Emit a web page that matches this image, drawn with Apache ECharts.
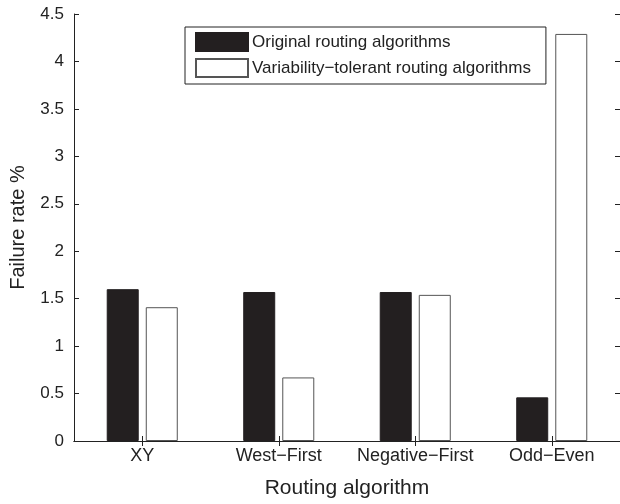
<!DOCTYPE html>
<html>
<head>
<meta charset="utf-8">
<script src="https://cdn.jsdelivr.net/npm/echarts@6/dist/echarts.min.js"></script>
<style>
  html, body { margin: 0; padding: 0; background: #fff; }
  #chart { width: 620px; height: 504px; }
</style>
</head>
<body>
<div id="chart"></div>
<script>
var categories = ["XY", "West\u2212First", "Negative\u2212First", "Odd\u2212Even"];
var originalRates = [1.6, 1.57, 1.57, 0.46];
var tolerantRates = [1.41, 0.67, 1.54, 4.29];
var seriesNames = ["Original routing algorithms", "Variability\u2212tolerant routing algorithms"];

var font = "Liberation Sans, Arial, Helvetica, sans-serif";
var axisColor = "#222";

var myChart = echarts.init(document.getElementById("chart"));

var yAxisBase = {
  type: "value",
  min: 0,
  max: 4.5,
  interval: 0.5,
  axisLine: { show: true, lineStyle: { color: axisColor, width: 1 } },
  axisTick: { show: true, inside: true, length: 5, lineStyle: { color: axisColor } },
  splitLine: { show: false }
};

var option = {
  animation: false,
  textStyle: { fontFamily: font },
  grid: { left: 73, right: 0, top: 14, bottom: 57, containLabel: false },
  legend: {
    orient: "vertical",
    left: 185,
    top: 27,
    padding: [5, 15, 6, 10],
    itemGap: 6,
    itemWidth: 52,
    itemHeight: 18,
    borderColor: "#222",
    borderWidth: 1,
    backgroundColor: "#fff",
    icon: "rect",
    textStyle: { fontFamily: font, fontSize: 17, color: "#222", padding: [0, 0, 0, -1] },
    data: seriesNames
  },
  xAxis: [
    {
      type: "category",
      data: categories,
      position: "bottom",
      name: "Routing algorithm",
      nameLocation: "middle",
      nameGap: 37,
      nameTextStyle: { fontFamily: font, fontSize: 21, color: "#222" },
      axisLine: { show: true, lineStyle: { color: axisColor, width: 1 } },
      axisTick: { show: true, inside: true, length: 5, alignWithLabel: true, lineStyle: { color: axisColor } },
      axisLabel: { interval: 0, fontFamily: font, fontSize: 18, color: "#222", margin: 6 },
      splitLine: { show: false }
    },
    {
      type: "category",
      data: categories,
      position: "top",
      axisLine: { show: true, lineStyle: { color: axisColor, width: 1 } },
      axisTick: { show: true, inside: true, length: 5, alignWithLabel: true, lineStyle: { color: axisColor } },
      axisLabel: { show: false },
      splitLine: { show: false }
    }
  ],
  yAxis: [
    Object.assign({}, yAxisBase, {
      position: "left",
      name: "Failure rate %",
      nameLocation: "middle",
      nameGap: 46,
      nameTextStyle: { fontFamily: font, fontSize: 20, color: "#222" },
      axisLabel: { fontFamily: font, fontSize: 17, color: "#222", margin: 10 }
    }),
    Object.assign({}, yAxisBase, {
      position: "right",
      axisLabel: { show: false }
    })
  ],
  series: [
    {
      name: seriesNames[0],
      type: "bar",
      data: originalRates,
      barWidth: 32,
      barGap: "22%",
      itemStyle: { color: "#231f20", borderColor: "#231f20", borderWidth: 1 }
    },
    {
      name: seriesNames[1],
      type: "bar",
      data: tolerantRates,
      barWidth: 32,
      barGap: "22%",
      itemStyle: { color: "#fff", borderColor: "#555", borderWidth: 1 }
    }
  ]
};

myChart.setOption(option);
</script>
</body>
</html>
